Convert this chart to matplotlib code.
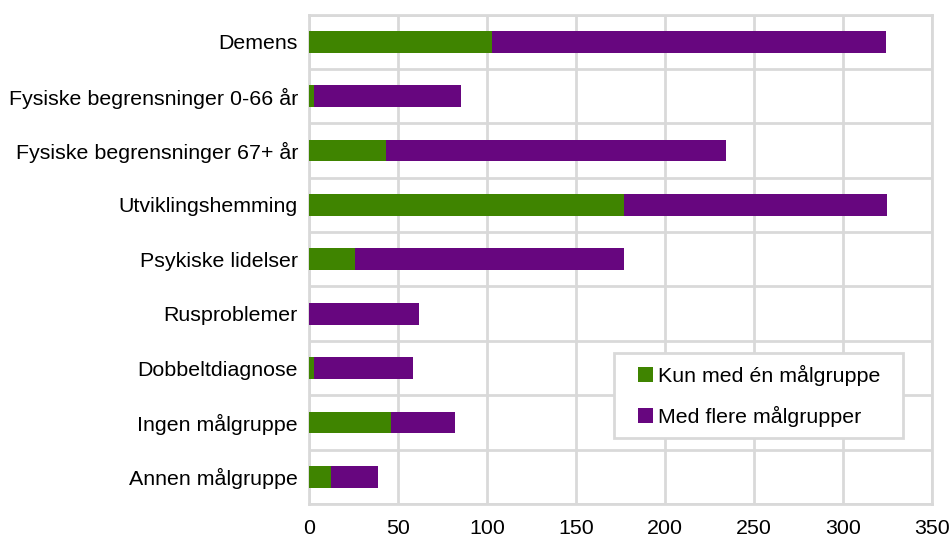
import matplotlib
matplotlib.use("Agg")
import matplotlib.pyplot as plt
from matplotlib.ticker import MultipleLocator, FixedLocator
from matplotlib.patches import Rectangle
import numpy as np

plt.rcParams['font.family'] = ['Liberation Sans', 'DejaVu Sans']

categories = [
    "Demens",
    "Fysiske begrensninger 0-66 år",
    "Fysiske begrensninger 67+ år",
    "Utviklingshemming",
    "Psykiske lidelser",
    "Rusproblemer",
    "Dobbeltdiagnose",
    "Ingen målgruppe",
    "Annen målgruppe",
]
kun_en = [103, 2.5, 43, 177, 26, 0, 2.5, 46, 12.5]
flere = [221, 83, 191, 148, 151, 62, 56, 36, 26]
series_names = ["Kun med én målgruppe", "Med flere målgrupper"]
x_ticks = [0, 50, 100, 150, 200, 250, 300, 350]

green = "#3f8400"
purple = "#67067f"
grid_col = "#d9d9d9"
fs = 15.4

fig = plt.figure(figsize=(9.51, 5.39), dpi=100)
ax = fig.add_axes([0.325, 0.065, 0.655, 0.908])

y = np.arange(len(categories))
ax.barh(y, kun_en, height=0.4, color=green, label=series_names[0], zorder=3)
ax.barh(y, flere, left=kun_en, height=0.4, color=purple, label=series_names[1], zorder=3)

ax.set_ylim(len(categories) - 0.5, -0.5)
ax.set_xlim(0, 350)
ax.set_yticks(y)
ax.set_yticklabels(categories)
ax.xaxis.set_major_locator(FixedLocator(x_ticks))
ax.yaxis.set_minor_locator(MultipleLocator(1, offset=0.5))

ax.grid(axis='x', which='major', color=grid_col, linewidth=2, zorder=0)
ax.grid(axis='y', which='minor', color=grid_col, linewidth=2, zorder=0)
ax.tick_params(axis='both', which='both', length=0, labelsize=fs, colors='black')
ax.tick_params(axis='x', pad=11)
ax.tick_params(axis='y', pad=8)
for s in ax.spines.values():
    s.set_color(grid_col)
    s.set_linewidth(2)

# legend frame drawn as a separate box
ax.add_patch(Rectangle((0.4896, 0.1348), 0.4639, 0.1737, transform=ax.transAxes,
                       facecolor='white', edgecolor=grid_col, linewidth=2, zorder=5))
leg = ax.legend(loc='center', bbox_to_anchor=(0.723, 0.2206), fontsize=fs,
                handlelength=0.7, handleheight=0.7, handletextpad=0.25,
                labelspacing=0.95, borderpad=0, borderaxespad=0, frameon=False)
leg.set_zorder(6)
for t in leg.get_texts():
    t.set_color('black')

fig.savefig("out.png", dpi=100)
